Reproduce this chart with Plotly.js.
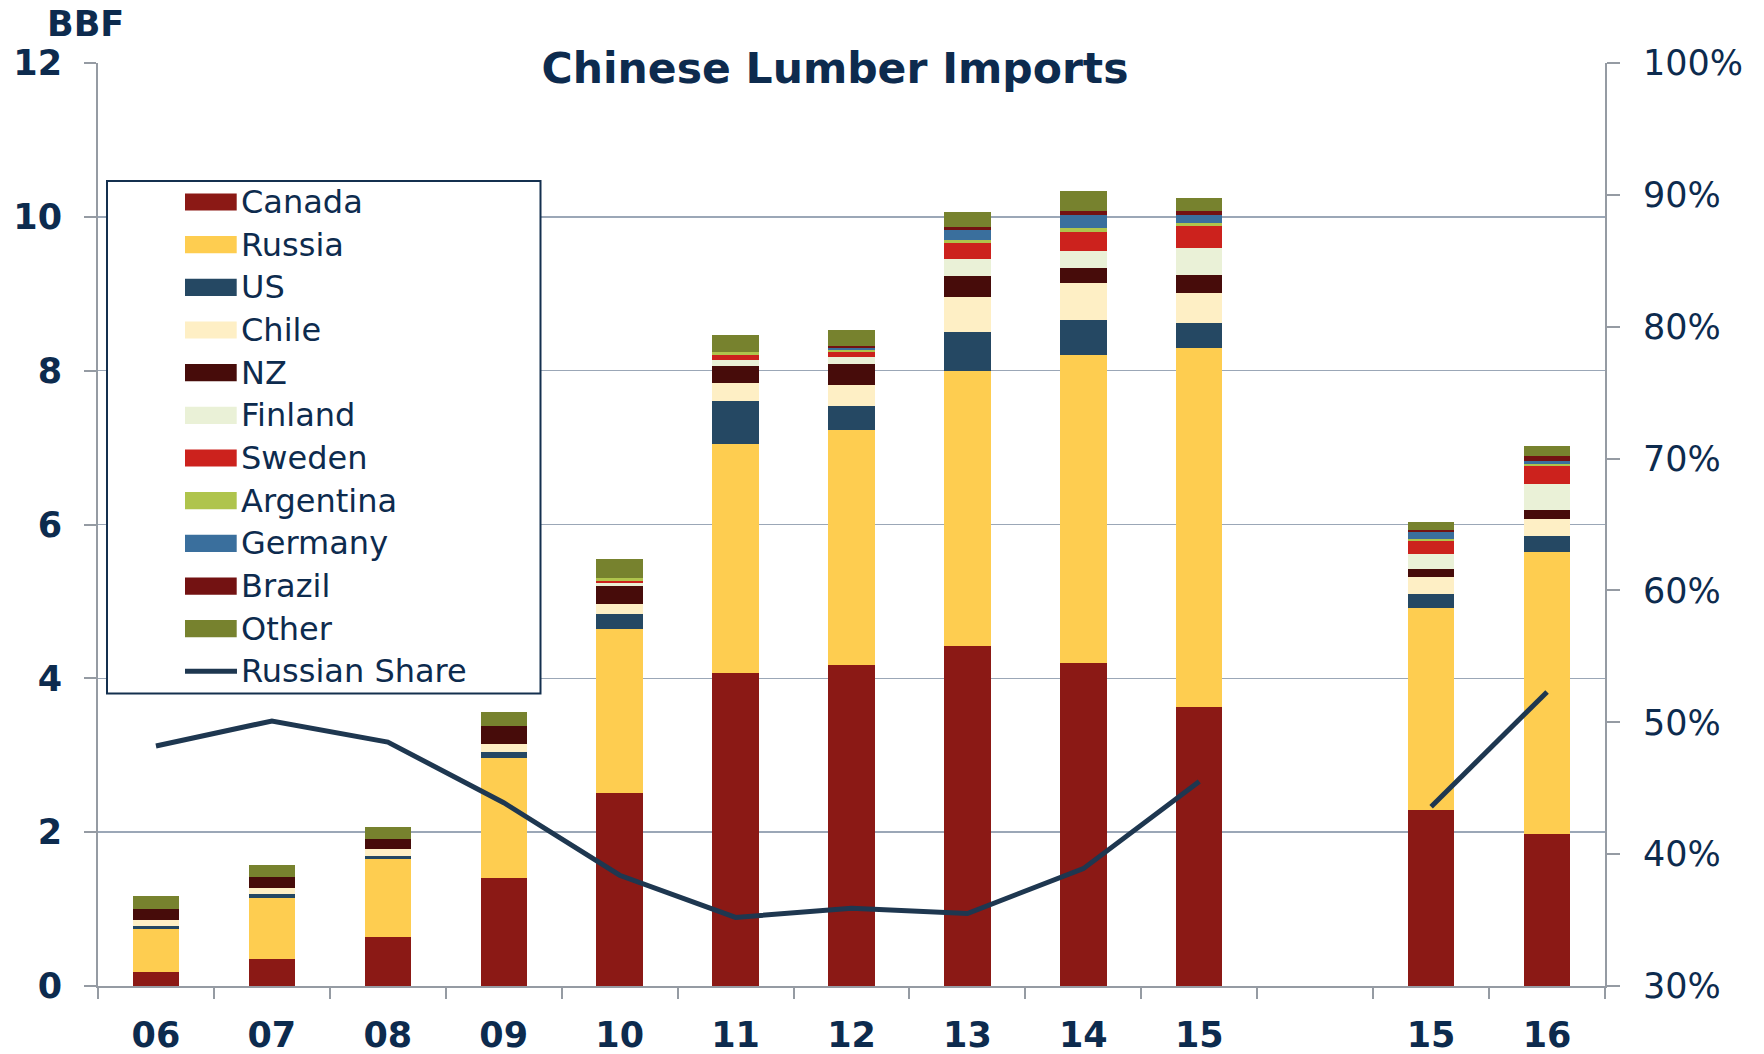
<!DOCTYPE html>
<html>
<head>
<meta charset="utf-8">
<script src="https://cdn.plot.ly/plotly-3.0.1.min.js"></script>
<style>html,body{margin:0;padding:0;background:#fff;}#chart{width:1764px;height:1054px;}</style>
</head>
<body>
<div id="chart"></div>
<script>
// ---------- DATA (BBF) ----------
const periods   = ['06','07','08','09','10','11','12','13','14','15','','15','16'];
const canada    = [0.18,0.35,0.64,1.40,2.51,4.07,4.17,4.42,4.20,3.63,null,2.29,1.98];
const russia    = [0.56,0.80,1.01,1.57,2.13,2.98,3.06,3.57,4.01,4.66,null,2.62,3.66];
const us        = [0.035,0.043,0.043,0.069,0.195,0.55,0.316,0.507,0.451,0.334,null,0.186,0.212];
const chile     = [0.078,0.087,0.091,0.109,0.134,0.234,0.273,0.459,0.476,0.381,null,0.226,0.225];
const nz        = [0.147,0.134,0.126,0.229,0.225,0.225,0.269,0.273,0.204,0.243,null,0.099,0.113];
const finland   = [0,0,0,0,0.048,0.074,0.086,0.221,0.217,0.342,null,0.191,0.342];
const sweden    = [0,0,0,0,0.030,0.065,0.065,0.208,0.242,0.286,null,0.178,0.230];
const argentina = [0,0,0,0,0.035,0.039,0.031,0.044,0.052,0.039,null,0.021,0.022];
const germany   = [0,0,0,0,0,0,0.026,0.130,0.169,0.104,null,0.087,0.043];
const brazil    = [0,0,0,0,0,0,0.021,0.034,0.052,0.052,null,0.035,0.069];
const other     = [0.165,0.160,0.156,0.191,0.247,0.221,0.213,0.195,0.269,0.169,null,0.095,0.126];
const russianShare = [48.2,50.1,48.5,43.9,38.4,35.2,35.9,35.5,38.9,45.5,null,43.6,52.3]; // %
const seriesNames = ['Canada','Russia','US','Chile','NZ','Finland','Sweden','Argentina','Germany','Brazil','Other'];
const lineName = 'Russian Share';
const titleText = 'Chinese Lumber Imports';
const unitLabel = 'BBF';

// ---------- STYLE ----------
const seriesData = [canada,russia,us,chile,nz,finland,sweden,argentina,germany,brazil,other];
const seriesColors = ['#8b1915','#fecd50','#254863','#feefc5','#470c0a','#eaf1d7','#cc221d','#afc44c','#3a6f9d','#731212','#77822e'];
const lineColor = '#1e3750';
const navy = '#0d2b4e';
const gridCol = '#9ba7b7';
const axisCol = '#959ba3';

const W = 1764, H = 1054;
const PL = 98, PR = 1605, PT = 63, PB = 986;   // plot area in px
const px2x = p => (p - PL) / (PR - PL);
const px2y = p => (PB - p) / (PB - PT);

const xs = periods.map((_, i) => i);
const boundaries = periods.map((_, i) => i - 0.5).concat([periods.length - 0.5]);
const labelVals = xs.filter(i => periods[i] !== '');
const labelText = labelVals.map(i => periods[i]);

const traces = seriesData.map((d, k) => ({
  type: 'bar', x: xs, y: d, name: seriesNames[k], width: 0.4,
  marker: {color: seriesColors[k], line: {width: 0}},
  xaxis: 'x', yaxis: 'y', showlegend: false, hoverinfo: 'skip'
}));
traces.push({
  type: 'scatter', mode: 'lines', x: xs, y: russianShare, name: lineName,
  xaxis: 'x2', yaxis: 'y2', connectgaps: false, showlegend: false,
  line: {color: lineColor, width: 5}, hoverinfo: 'skip'
});

// ---------- custom legend ----------
const shapes = [];
const annotations = [];
shapes.push({type: 'rect', xref: 'paper', yref: 'paper', layer: 'above',
  x0: px2x(107), x1: px2x(540.5), y0: px2y(181), y1: px2y(693.5),
  fillcolor: '#ffffff', line: {color: '#14304f', width: 2}});
const legTop = 202, legStep = 42.67;
seriesNames.forEach((n, k) => {
  const cy = legTop + k * legStep;
  shapes.push({type: 'rect', xref: 'paper', yref: 'paper', layer: 'above',
    x0: px2x(185), x1: px2x(236.7), y0: px2y(cy - 8.6), y1: px2y(cy + 8.6),
    fillcolor: seriesColors[k], line: {width: 0}});
  annotations.push({xref: 'paper', yref: 'paper', x: px2x(239), y: px2y(cy),
    xanchor: 'left', yanchor: 'middle', showarrow: false, text: n,
    font: {family: 'DejaVu Sans', size: 32, color: navy}});
});
{
  const cy = legTop + seriesNames.length * legStep;
  shapes.push({type: 'line', xref: 'paper', yref: 'paper', layer: 'above',
    x0: px2x(185), x1: px2x(237), y0: px2y(cy), y1: px2y(cy),
    line: {color: lineColor, width: 5}});
  annotations.push({xref: 'paper', yref: 'paper', x: px2x(239), y: px2y(cy),
    xanchor: 'left', yanchor: 'middle', showarrow: false, text: lineName,
    font: {family: 'DejaVu Sans', size: 32, color: navy}});
}
annotations.push({xref: 'paper', yref: 'paper', x: px2x(45), y: px2y(24),
  xanchor: 'left', yanchor: 'middle', showarrow: false, text: unitLabel,
  font: {family: 'DejaVu Sans', size: 35, color: navy, weight: 'bold'}});

const layout = {
  width: W, height: H,
  margin: {l: PL, r: W - PR, t: PT, b: H - PB, pad: 0},
  paper_bgcolor: '#ffffff', plot_bgcolor: '#ffffff',
  barmode: 'stack', showlegend: false,
  title: {text: titleText, xref: 'container', yref: 'container',
    x: 835 / W, xanchor: 'center', y: 1 - 68 / H, yanchor: 'middle',
    font: {family: 'DejaVu Sans', size: 42.5, color: navy, weight: 'bold'}},
  xaxis: {range: [-0.5, periods.length - 0.5], tickmode: 'array', tickvals: labelVals, ticktext: labelText,
    ticks: '', showline: true, linecolor: axisCol, linewidth: 2, showgrid: false, zeroline: false,
    tickfont: {family: 'DejaVu Sans', size: 35, color: navy, weight: 'bold'},
    ticklabelstandoff: 17, fixedrange: true},
  xaxis2: {overlaying: 'x', anchor: 'y', side: 'bottom', range: [-0.5, periods.length - 0.5],
    tickmode: 'array', tickvals: boundaries, ticks: 'outside', ticklen: 12, tickwidth: 2, tickcolor: axisCol,
    showticklabels: false, showline: false, showgrid: false, zeroline: false, fixedrange: true},
  yaxis: {range: [0, 12], tickmode: 'linear', tick0: 0, dtick: 2,
    showgrid: true, gridcolor: gridCol, gridwidth: 1.6,
    showline: true, linecolor: axisCol, linewidth: 2,
    ticks: 'outside', ticklen: 12, tickwidth: 2, tickcolor: axisCol,
    tickfont: {family: 'DejaVu Sans', size: 35, color: navy, weight: 'bold'},
    ticklabelstandoff: 15, zeroline: false, fixedrange: true},
  yaxis2: {overlaying: 'y', side: 'right', anchor: 'x', range: [30, 100], tickmode: 'linear', tick0: 30, dtick: 10,
    ticksuffix: '%', showgrid: false, showline: true, linecolor: axisCol, linewidth: 2,
    ticks: 'outside', ticklen: 13, tickwidth: 2, tickcolor: axisCol,
    tickfont: {family: 'DejaVu Sans', size: 35, color: navy},
    ticklabelstandoff: 16, zeroline: false, fixedrange: true},
  shapes: shapes,
  annotations: annotations
};

Plotly.newPlot('chart', traces, layout, {displayModeBar: false, staticPlot: true});
</script>
</body>
</html>
